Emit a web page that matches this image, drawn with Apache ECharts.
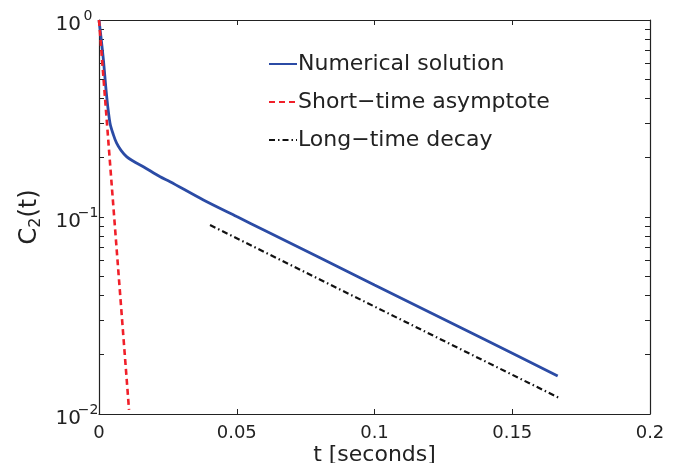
<!DOCTYPE html>
<html>
<head>
<meta charset="utf-8">
<script src="https://cdn.jsdelivr.net/npm/echarts@6/dist/echarts.min.js"></script>
<style>
  html, body { margin: 0; padding: 0; background: #fff; }
  #chart { width: 688px; height: 463px; }
</style>
</head>
<body>
<div id="chart"></div>
<script>
// values
const numT = [0, 0.0008, 0.0016, 0.0028, 0.004, 0.0052, 0.0064, 0.008, 0.0101, 0.0125, 0.0161, 0.0222, 0.0258, 0.0379, 0.05, 0.06, 0.1, 0.14, 0.1665];
const numC = [1.0, 0.80, 0.627, 0.408, 0.299, 0.262, 0.237, 0.218, 0.202, 0.192, 0.180, 0.160, 0.151, 0.122, 0.1005, 0.0857, 0.0452, 0.0239, 0.0156];
const shortT = [0, 0.0109];
const shortC = [1.0, 0.0105];
const longT = [0.0403, 0.1668];
const longC = [0.091, 0.0121];
const xTicks = [0, 0.05, 0.1, 0.15, 0.2];
const yMinorTicks = [0.01, 0.02, 0.03, 0.04, 0.05, 0.06, 0.07, 0.08, 0.09, 0.1, 0.2, 0.3, 0.4, 0.5, 0.6, 0.7, 0.8, 0.9, 1];

const pair = (xs, ys) => xs.map((x, i) => [x, ys[i]]);
const FONT = 'DejaVu Sans';

const yLabel = (v) => {
  const e = Math.round(Math.log10(v));
  return '{b|10}{e|' + (e < 0 ? '\u2212' + (-e) : e) + '}';
};

const baseY = {
  type: 'log',
  min: 0.01,
  max: 1,
  logBase: 10,
  splitLine: { show: false },
  axisLine: { show: true, onZero: false, lineStyle: { color: '#222', width: 1.2 } },
  axisTick: { show: true, inside: true, length: 5, customValues: yMinorTicks, lineStyle: { color: '#222' } },
  minorTick: { show: false }
};

const option = {
  animation: false,
  backgroundColor: '#fff',
  grid: { left: 99, right: 38, top: 20, bottom: 49, containLabel: false, outerBoundsMode: 'none' },
  legend: {
    orient: 'vertical',
    left: 263,
    top: 48,
    itemWidth: 28,
    itemHeight: 14,
    itemGap: 16,
    itemStyle: { opacity: 0 },
    textStyle: { fontFamily: FONT, fontSize: 22, color: '#222', padding: [0, 0, 0, -4] },
    data: ['Numerical solution', 'Short\u2212time asymptote', 'Long\u2212time decay']
  },
  xAxis: [
    {
      type: 'value',
      min: 0,
      max: 0.2,
      interval: 0.05,
      name: 't [seconds]',
      nameLocation: 'middle',
      nameGap: 30,
      nameMoveOverlap: false,
      nameTextStyle: { fontFamily: FONT, fontSize: 22, color: '#222' },
      splitLine: { show: false },
      axisLine: { show: true, onZero: false, lineStyle: { color: '#222', width: 1.2 } },
      axisTick: { show: true, inside: true, length: 5, lineStyle: { color: '#222' } },
      axisLabel: {
        fontFamily: FONT, fontSize: 18, color: '#222', margin: 10,
        customValues: xTicks,
        formatter: (v) => String(+v.toFixed(2))
      }
    },
    {
      type: 'value',
      position: 'top',
      min: 0,
      max: 0.2,
      interval: 0.05,
      splitLine: { show: false },
      axisLine: { show: true, onZero: false, lineStyle: { color: '#222', width: 1.2 } },
      axisTick: { show: true, inside: true, length: 5, lineStyle: { color: '#222' } },
      axisLabel: { show: false }
    }
  ],
  yAxis: [
    Object.assign({}, baseY, {
      name: '{c|C}{s|2}{c|(t)}',
      nameLocation: 'middle',
      nameGap: 55,
      nameMoveOverlap: false,
      nameRotate: 90,
      nameTextStyle: {
        color: '#222',
        rich: {
          c: { fontFamily: FONT, fontSize: 24, color: '#222' },
          s: { fontFamily: FONT, fontSize: 16, color: '#222', padding: [13, 0, 0, 0] }
        }
      },
      axisLabel: {
        margin: 4,
        customValues: [0.01, 0.1, 1],
        formatter: yLabel,
        rich: {
          b: { fontFamily: FONT, fontSize: 20, color: '#222', padding: [10, 0, 0, 0] },
          e: { fontFamily: FONT, fontSize: 14, color: '#222', width: 14, align: 'left', padding: [0, 0, 8, 0] }
        }
      }
    }),
    Object.assign({}, baseY, { position: 'right', axisLabel: { show: false } })
  ],
  series: [
    {
      name: 'Numerical solution',
      type: 'line',
      symbol: 'none',
      smooth: 0.3,
      data: pair(numT, numC),
      lineStyle: { color: '#2B4BA5', width: 2.8 },
      itemStyle: { color: '#2B4BA5' },
      z: 3
    },
    {
      name: 'Short\u2212time asymptote',
      type: 'line',
      symbol: 'none',
      data: pair(shortT, shortC),
      lineStyle: { color: '#F0202A', width: 2.6, type: [6, 4] },
      itemStyle: { color: '#F0202A' },
      z: 4
    },
    {
      name: 'Long\u2212time decay',
      type: 'line',
      symbol: 'none',
      data: pair(longT, longC),
      lineStyle: { color: '#111', width: 2.2, type: [6, 3, 1.5, 3] },
      itemStyle: { color: '#111' },
      z: 3
    }
  ]
};

const chart = echarts.init(document.getElementById('chart'), null, { renderer: 'canvas' });
chart.setOption(option);
</script>
</body>
</html>
